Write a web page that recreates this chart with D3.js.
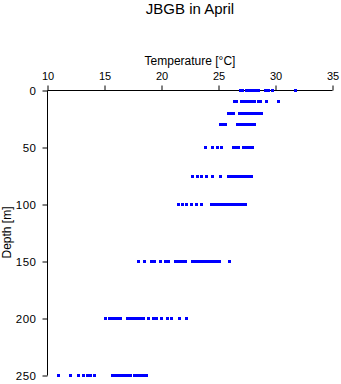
<!DOCTYPE html>
<html>
<head>
<meta charset="utf-8">
<script src="https://cdn.jsdelivr.net/npm/d3@7"></script>
<style>
  html, body { margin: 0; padding: 0; background: #fff; }
  svg { display: block; }
  text { font-family: "Liberation Sans", Arial, Helvetica, sans-serif; fill: #000; }
</style>
</head>
<body>
<svg id="chart" width="341" height="384"></svg>
<script>
// Temperature profile samples (°C) at each standard depth (m)
const depths = [0, 10, 20, 30, 50, 75, 100, 150, 200, 250];

const temps0   = [26.95, 27.1, 27.45, 27.65, 27.85, 28.05, 28.25, 28.5, 29.1, 29.35, 29.76, 31.77];
const temps10  = [26.4, 26.6, 27.0, 27.2, 27.4, 27.6, 27.8, 28.0, 28.15, 28.5, 28.7, 29.2, 30.26];
const temps20  = [25.9, 26.05, 26.35, 26.8, 26.95, 27.1, 27.3, 27.5, 27.7, 27.9, 28.1, 28.3, 28.5, 28.75];
const temps30  = [25.2, 25.4, 25.6, 26.65, 26.85, 27.05, 27.25, 27.45, 27.65, 27.85, 28.0, 28.15];
const temps50  = [23.88, 24.47, 24.91, 25.26, 26.3, 26.5, 26.75, 27.2, 27.4, 27.6, 27.8, 28.0];
const temps75  = [22.75, 23.15, 23.55, 23.99, 24.47, 25.18, 25.9, 26.1, 26.3, 26.5, 26.7, 26.9, 27.1, 27.3, 27.5, 27.7, 27.9];
const temps100 = [21.5, 21.8, 22.2, 22.6, 23.1, 23.55, 24.4, 24.6, 24.8, 25.0, 25.2, 25.4, 25.6, 25.8, 26.0, 26.2, 26.4, 26.6, 26.8, 27.0, 27.2, 27.35];
const temps150 = [17.97, 18.5, 19.1, 19.35, 19.93, 20.35, 20.65, 21.25, 21.5, 21.75, 22.0, 22.1, 22.7, 22.9, 23.1, 23.3, 23.5, 23.7, 23.9, 24.1, 24.3, 24.5, 24.7, 24.9, 25.05, 25.94];
const temps200 = [15.07, 15.45, 15.65, 15.85, 16.05, 16.25, 16.43, 17.0, 17.2, 17.4, 17.6, 17.8, 18.0, 18.2, 18.4, 18.82, 19.3, 19.55, 20.02, 20.55, 20.9, 21.56, 22.18];
const temps250 = [11.0, 12.0, 12.68, 13.13, 13.55, 13.8, 14.1, 15.7, 15.9, 16.1, 16.3, 16.5, 16.7, 16.9, 17.1, 17.25, 17.6, 17.8, 18.0, 18.2, 18.4, 18.65];

const tempTicks  = [10, 15, 20, 25, 30, 35];
const depthTicks = [0, 50, 100, 150, 200, 250];

const titleText = "JBGB in April";
const xLabel = "Temperature [°C]";
const yLabel = "Depth [m]";

const profiles = [temps0, temps10, temps20, temps30, temps50, temps75, temps100, temps150, temps200, temps250];
const points = [];
depths.forEach((d, i) => profiles[i].forEach(t => points.push({ depth: d, temp: t })));

const svg = d3.select("#chart");

const x = d3.scaleLinear().domain([10, 35]).range([47.5, 332.5]);
const y = d3.scaleLinear().domain([0, 250]).range([90.5, 375.5]);

// Temperature axis along the top
const xAxis = d3.axisTop(x).tickValues(tempTicks).tickSize(5).tickPadding(6).tickFormat(d3.format("d"));
const gx = svg.append("g").attr("transform", "translate(0,90.5)").call(xAxis);
gx.select(".domain").attr("d", `M${x(10)},0H${x(35)}`).attr("stroke", "#000");
gx.selectAll(".tick line").attr("stroke", "#000");
gx.selectAll(".tick text").style("font-size", "11px").attr("fill", "#000");

// Depth axis, increasing downward
const yAxis = d3.axisLeft(y).tickValues(depthTicks).tickSize(5).tickPadding(6).tickFormat(d3.format("d"));
const gy = svg.append("g").attr("transform", "translate(47.5,0)").call(yAxis);
gy.select(".domain").attr("d", `M0,${y(0)}V${y(250)}`).attr("stroke", "#000");
gy.selectAll(".tick line").attr("stroke", "#000");
gy.selectAll(".tick text").style("font-size", "11.5px").style("letter-spacing", "0.5px").attr("fill", "#000");

// Observations
svg.append("g")
  .attr("shape-rendering", "crispEdges")
  .selectAll("rect")
  .data(points)
  .join("rect")
  .attr("x", d => x(d.temp) - 1.5)
  .attr("y", d => y(d.depth) - 1.5)
  .attr("width", 3)
  .attr("height", 3)
  .attr("fill", "#0000ff");

// Titles
svg.append("text")
  .attr("x", 190).attr("y", 14)
  .attr("text-anchor", "middle")
  .style("font-size", "15px")
  .text(titleText);

svg.append("text")
  .attr("x", 190).attr("y", 65)
  .attr("text-anchor", "middle")
  .style("font-size", "12px")
  .text(xLabel);

svg.append("text")
  .attr("transform", "translate(10.5,232.5) rotate(-90)")
  .attr("text-anchor", "middle")
  .style("font-size", "12px")
  .text(yLabel);
</script>
</body>
</html>
